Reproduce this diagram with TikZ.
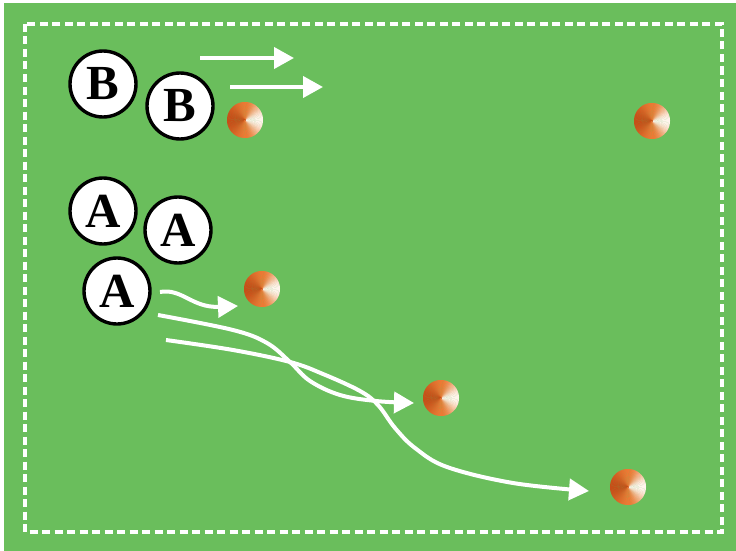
\documentclass[tikz,border=0pt]{standalone}
\usepackage{fontspec}
\setmainfont{Liberation Serif}
\usetikzlibrary{arrows.meta}
\definecolor{field}{RGB}{106,190,92}
\definecolor{coneorange}{RGB}{236,122,52}
\definecolor{conedark}{RGB}{198,78,24}
\definecolor{conewhite}{RGB}{255,246,238}
\tikzset{
  player/.style={circle, fill=white, draw=black, line width=3.4pt, minimum size=66pt, inner sep=0pt,
    font=\bfseries\fontsize{49}{49}\selectfont},
  move/.style={draw=white, line width=4pt, -{Triangle[length=20pt,width=21pt]}},
  boundary/.style={draw=white, line width=3.2pt, dash pattern=on 8pt off 4.5pt}
}
\newcommand\drawcone[1]{%
  \foreach \a in {-90,-87,...,87} {%
    \pgfmathtruncatemacro\p{100*(cos(\a+1.5))^2}%
    \fill[conewhite!\p!coneorange] (#1) -- ++(\a:18pt) arc[start angle=\a, end angle=\a+4, radius=18pt] -- cycle;
  }%
  \foreach \a in {90,93,...,267} {%
    \pgfmathtruncatemacro\p{100*(-cos(\a+1.5))^1.5}%
    \fill[conedark!\p!coneorange] (#1) -- ++(\a:18pt) arc[start angle=\a, end angle=\a+4, radius=18pt] -- cycle;
  }%
}
\begin{document}
\begin{tikzpicture}[x=1pt,y=-1pt]
\useasboundingbox (0,0) rectangle (736,551);
\fill[white] (0,0) rectangle (736,551);
\fill[field] (4,3) rectangle (736,551);
\draw[boundary] (25,24) rectangle (722,532);

% cones
\coordinate (c1) at (245,120);
\coordinate (c2) at (652,121);
\coordinate (c3) at (262,289);
\coordinate (c4) at (441,398);
\coordinate (c5) at (628,487);
\drawcone{c1}
\drawcone{c2}
\drawcone{c3}
\drawcone{c4}
\drawcone{c5}

% players
\node[player] (b1) at (103,84) {B};
\node[player] (b2) at (180,106) {B};
\node[player] (a1) at (103,211) {A};
\node[player] (a2) at (178,230) {A};
\node[player] (a3) at (117,291) {A};

% B runs
\coordinate (bs1) at (200,58);
\coordinate (be1) at (294,58);
\coordinate (bs2) at (230,87);
\coordinate (be2) at (323,87);
\draw[move] (bs1) -- (be1);
\draw[move] (bs2) -- (be2);

% A runs
\coordinate (ws) at (160,292);
\coordinate (we) at (238,306);
\draw[move] (ws) .. controls (182,288) and (192,308) .. (we);

\coordinate (us) at (158,315);
\coordinate (ue) at (414,403);
\draw[move] plot[smooth, tension=0.6] coordinates {(us) (233,330) (267,343) (290,362) (310,381) (340,395) (376,401) (ue)};

\coordinate (ls) at (166,340);
\coordinate (le) at (589,491);
\draw[move] plot[smooth, tension=0.6] coordinates {(ls) (233,350) (290,362) (323,374) (360,391) (378,405) (395,428) (415,448) (447,467) (513,483) (le)};
\end{tikzpicture}
\end{document}
